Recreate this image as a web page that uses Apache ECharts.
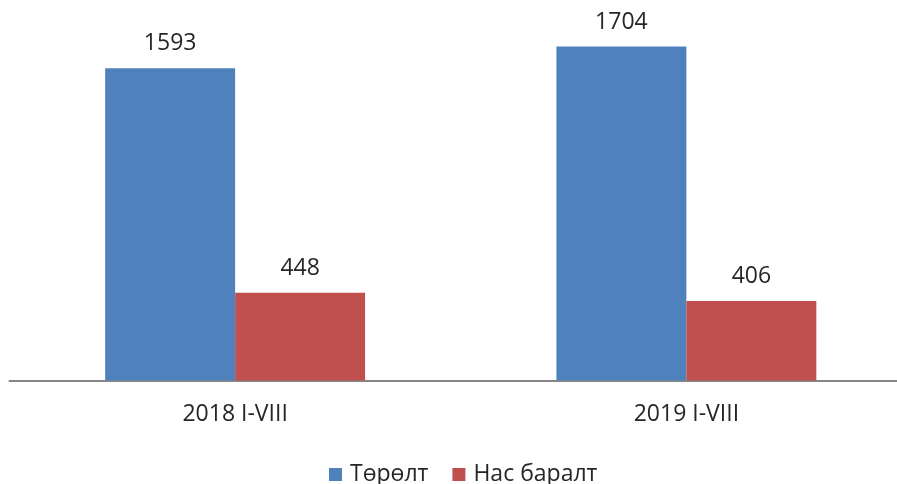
<!DOCTYPE html>
<html>
<head>
<meta charset="utf-8">
<script src="https://cdn.jsdelivr.net/npm/echarts@6/dist/echarts.min.js"></script>
<style>
  html, body { margin: 0; padding: 0; background: #fff; }
  #chart { width: 897px; height: 484px; }
</style>
</head>
<body>
<div id="chart"></div>
<script>
const categories = ['2018 I-VIII', '2019 I-VIII']
const seriesNames = ['Төрөлт', 'Нас баралт']
const births = [1593, 1704]
const deaths = [448, 406]

const FONT = 'Open Sans'
const TEXT_COLOR = '#262626'
const FONT_SIZE = 23

const chart = echarts.init(document.getElementById('chart'))

function barSeries(name, data, color) {
  return {
    name,
    type: 'bar',
    data,
    barGap: '0%',
    barCategoryGap: '42.4%',
    itemStyle: { color },
    label: {
      show: true,
      position: 'top',
      distance: 13,
      color: TEXT_COLOR,
      fontFamily: FONT,
      fontSize: FONT_SIZE,
    },
  }
}

chart.setOption({
  animation: false,
  textStyle: { fontFamily: FONT },
  legend: {
    data: seriesNames,
    top: 458,
    left: 324,
    icon: 'rect',
    itemWidth: 13,
    itemHeight: 13,
    itemGap: 24,
    textStyle: { color: TEXT_COLOR, fontFamily: FONT, fontSize: FONT_SIZE, padding: [0, 0, 0, 3] },
  },
  // plot runs past the right edge, as in the source
  grid: { left: 9.5, right: -15, top: 27.7, bottom: 103.5, outerBoundsMode: 'none' },
  xAxis: {
    type: 'category',
    data: categories,
    axisLine: { lineStyle: { color: '#868686', width: 2 } },
    axisTick: { show: false },
    axisLabel: { color: TEXT_COLOR, fontFamily: FONT, fontSize: FONT_SIZE, margin: 22 },
  },
  yAxis: {
    type: 'value',
    min: 0,
    max: 1800,
    show: false,
    splitLine: { show: false },
  },
  series: [
    barSeries(seriesNames[0], births, '#4F81BD'),
    barSeries(seriesNames[1], deaths, '#C0504D'),
  ],
})
</script>
</body>
</html>
